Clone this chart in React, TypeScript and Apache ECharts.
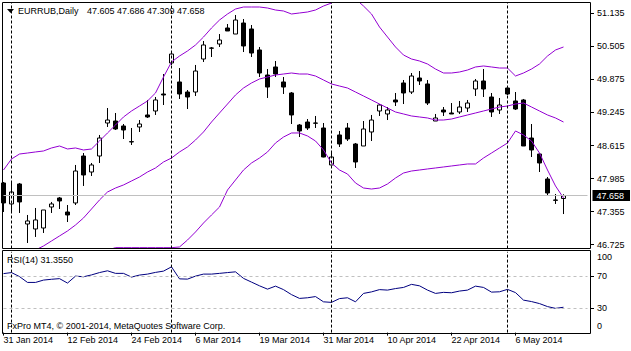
import React, { useEffect, useRef } from 'react';
import * as echarts from 'echarts';

const categories = [
  '31 Jan 2014', '3 Feb 2014', '4 Feb 2014', '5 Feb 2014', '6 Feb 2014', '7 Feb 2014', '10 Feb 2014', '11 Feb 2014', '12 Feb 2014', '13 Feb 2014',
  '14 Feb 2014', '17 Feb 2014', '18 Feb 2014', '19 Feb 2014', '20 Feb 2014', '21 Feb 2014', '24 Feb 2014', '25 Feb 2014', '26 Feb 2014', '27 Feb 2014',
  '28 Feb 2014', '3 Mar 2014', '4 Mar 2014', '5 Mar 2014', '6 Mar 2014', '7 Mar 2014', '11 Mar 2014', '12 Mar 2014', '13 Mar 2014', '14 Mar 2014',
  '17 Mar 2014', '18 Mar 2014', '19 Mar 2014', '20 Mar 2014', '21 Mar 2014', '24 Mar 2014', '25 Mar 2014', '26 Mar 2014', '27 Mar 2014', '28 Mar 2014',
  '31 Mar 2014', '1 Apr 2014', '2 Apr 2014', '3 Apr 2014', '4 Apr 2014', '7 Apr 2014', '8 Apr 2014', '9 Apr 2014', '10 Apr 2014', '11 Apr 2014',
  '14 Apr 2014', '15 Apr 2014', '16 Apr 2014', '17 Apr 2014', '18 Apr 2014', '21 Apr 2014', '22 Apr 2014', '23 Apr 2014', '24 Apr 2014', '25 Apr 2014',
  '28 Apr 2014', '29 Apr 2014', '30 Apr 2014', '5 May 2014', '6 May 2014', '7 May 2014', '8 May 2014', '12 May 2014', '13 May 2014', '14 May 2014',
  '15 May 2014', '16 May 2014', '19 May 2014', '20 May 2014'
];
const lastLabelIndex = 64;

const opens = [
  47.901, 47.501, 47.882, 47.119, 47.024, 47.043, 47.443, 47.615, 47.348, 47.520,
  48.415, 48.110, 48.415, 49.044, 49.082, 48.987, 48.682, 48.968, 49.197, 49.273,
  49.597, 50.188, 49.826, 49.635, 49.635, 50.264, 50.474, 50.550, 50.855, 50.740,
  50.950, 50.836, 50.436, 49.959, 50.112, 49.826, 49.616, 49.006, 49.063, 49.044,
  48.949, 48.244, 48.816, 48.949, 48.644, 48.606, 48.873, 49.273, 49.216, 49.483,
  49.807, 49.635, 49.902, 49.788, 49.082, 49.292, 49.235, 49.254, 49.330, 49.692,
  49.845, 49.540, 49.292, 49.711, 49.464, 49.483, 48.758, 48.453, 47.977, 47.577,
  47.605
];
const highs = [
  47.920, 47.901, 47.901, 47.291, 47.424, 47.386, 47.539, 47.634, 47.481, 48.244,
  48.472, 48.282, 48.816, 49.330, 49.235, 49.025, 48.949, 49.101, 49.483, 49.540,
  49.978, 50.397, 50.092, 49.673, 50.150, 50.607, 50.493, 50.740, 50.931, 51.103,
  51.026, 50.912, 50.493, 50.073, 50.226, 49.921, 49.635, 49.025, 49.120, 49.178,
  49.044, 48.511, 48.892, 49.044, 48.663, 49.082, 49.197, 49.406, 49.349, 49.616,
  49.864, 49.997, 50.035, 49.864, 49.216, 49.349, 49.425, 49.464, 49.483, 49.883,
  50.073, 49.616, 49.521, 49.711, 49.635, 49.502, 49.025, 48.472, 48.015, 47.691,
  47.686
];
const lows = [
  47.348, 47.329, 47.329, 46.757, 46.872, 46.948, 47.329, 47.405, 47.157, 47.481,
  47.844, 48.034, 48.282, 48.968, 48.911, 48.739, 48.625, 48.873, 49.140, 49.197,
  49.387, 50.150, 49.502, 49.311, 49.559, 50.207, 50.302, 50.493, 50.798, 50.740,
  50.397, 50.302, 49.921, 49.521, 49.921, 49.597, 49.025, 48.777, 48.911, 48.949,
  48.390, 48.240, 48.587, 48.701, 48.187, 48.606, 48.701, 49.178, 49.101, 49.368,
  49.406, 49.597, 49.769, 49.387, 49.082, 49.178, 49.216, 49.216, 49.254, 49.559,
  49.540, 49.159, 49.216, 49.578, 49.292, 48.606, 48.396, 48.110, 47.653, 47.501,
  47.309
];
const closes = [
  47.520, 47.729, 47.539, 47.177, 47.196, 47.386, 47.501, 47.558, 47.291, 48.129,
  48.053, 48.244, 48.758, 49.101, 48.930, 48.911, 48.690, 49.025, 49.159, 49.483,
  49.578, 50.359, 49.597, 49.540, 50.035, 50.531, 50.470, 50.626, 50.798, 51.007,
  50.512, 50.378, 49.997, 49.730, 49.978, 49.730, 49.197, 48.892, 48.949, 49.040,
  48.396, 48.396, 48.644, 48.739, 48.301, 48.930, 49.101, 49.387, 49.292, 49.445,
  49.616, 49.940, 49.845, 49.425, 49.140, 49.254, 49.216, 49.349, 49.425, 49.845,
  49.692, 49.254, 49.387, 49.597, 49.311, 48.606, 48.530, 48.282, 47.710, 47.570,
  47.658
];

const bandUpper = [
  48.148, 48.358, 48.453, 48.472, 48.492, 48.511, 48.568, 48.606, 48.549, 48.568,
  48.530, 48.549, 48.701, 48.854, 49.006, 49.159, 49.273, 49.368, 49.464, 49.616,
  49.921, 50.207, 50.321, 50.417, 50.531, 50.683, 50.855, 51.007, 51.122, 51.217,
  51.255, 51.255, 51.255, 51.236, 51.198, 51.179, 51.122, 51.141, 51.160, 51.198,
  51.274, 51.331, 51.427, 51.446, 51.408, 51.274, 51.122, 50.874, 50.683, 50.493,
  50.340, 50.264, 50.226, 50.169, 50.073, 49.997, 49.997, 50.016, 50.054, 50.112,
  50.131, 50.112, 50.092, 50.092, 49.940, 49.997, 50.073, 50.169, 50.321, 50.436,
  50.493
];
const bandMiddle = [
  46.243, 46.338, 46.433, 46.529, 46.624, 46.700, 46.795, 46.891, 46.986, 47.100,
  47.234, 47.405, 47.577, 47.729, 47.805, 47.863, 47.939, 48.015, 48.110, 48.187,
  48.301, 48.377, 48.492, 48.587, 48.720, 48.873, 49.063, 49.235, 49.406, 49.578,
  49.711, 49.807, 49.883, 49.921, 49.959, 49.978, 49.997, 49.978, 49.978, 49.940,
  49.864, 49.788, 49.749, 49.711, 49.635, 49.559, 49.483, 49.406, 49.330, 49.254,
  49.216, 49.178, 49.159, 49.140, 49.101, 49.101, 49.120, 49.159, 49.197, 49.235,
  49.273, 49.311, 49.349, 49.368, 49.406, 49.425, 49.349, 49.273, 49.197, 49.140,
  49.063
];
const bandLower = [
  46.300, 46.250, 46.200, 46.150, 46.100, 46.100, 46.150, 46.200, 46.280, 46.350,
  46.420, 46.500, 46.560, 46.620, 46.668, 46.668, 46.668, 46.668, 46.668, 46.668,
  46.668, 46.668, 46.681, 46.814, 46.967, 47.138, 47.291, 47.443, 47.767, 47.958,
  48.148, 48.282, 48.377, 48.492, 48.663, 48.777, 48.854, 48.854, 48.797, 48.701,
  48.530, 48.282, 48.148, 48.072, 47.901, 47.805, 47.786, 47.805, 47.882, 47.996,
  48.091, 48.129, 48.148, 48.168, 48.187, 48.206, 48.225, 48.244, 48.263, 48.263,
  48.377, 48.472, 48.568, 48.663, 48.892, 48.816, 48.701, 48.472, 48.148, 47.844,
  47.615
];

const rsi = [
  73.0, 74.3, 69.3, 62.1, 62.1, 65.0, 66.0, 66.8, 61.3, 69.9,
  69.1, 71.4, 74.3, 76.5, 73.3, 73.3, 68.7, 71.2, 72.4, 74.5,
  76.1, 81.4, 66.5, 66.2, 69.9, 72.4, 72.4, 73.3, 74.3, 75.2,
  67.1, 62.5, 57.9, 53.8, 57.5, 53.2, 47.0, 42.3, 43.1, 44.6,
  38.1, 37.4, 42.1, 43.1, 38.1, 48.5, 50.4, 53.2, 52.6, 54.5,
  55.9, 59.7, 57.9, 52.6, 48.5, 49.8, 49.3, 51.4, 52.6, 57.5,
  55.9, 50.1, 50.5, 53.5, 49.5, 40.2, 38.4, 35.9, 32.2, 30.0,
  31.355
];

const priceTicks = [46.725, 47.355, 47.985, 48.615, 49.245, 49.875, 50.505, 51.135];
const rsiTicks = [0, 30, 70, 100];
const rsiLevels = [30, 70];
const separators = ['3 Feb 2014', '3 Mar 2014', '1 Apr 2014', '5 May 2014'];
const lastPrice = 47.658;
const headerSymbol = 'EURRUB,Daily';
const headerValues = '47.605 47.686 47.309 47.658';
const rsiTitle = 'RSI(14) 31.3550';
const copyright = 'FxPro MT4, \u00A9 2001-2014, MetaQuotes Software Corp.';

const FONT = '"Liberation Sans", Arial, sans-serif';
const BAND_COLOR = '#9400D3';
const RSI_COLOR = '#000080';

export default function App() {
  const ref = useRef<HTMLDivElement>(null);

  useEffect(() => {
    if (!ref.current) return;
    const chart = echarts.init(ref.current, null, { renderer: 'svg' });

    const candleData = opens.map((o, i) => [o, closes[i], lows[i], highs[i]]);
    const labelFilter = (idx: number) => idx % 8 === 0 && idx <= lastLabelIndex;
    const sepLines = separators.map((s) => ({
      xAxis: s,
      lineStyle: { color: '#000', type: [3, 2], width: 1 },
    }));

    const option: any = {
      animation: false,
      grid: [
        { left: 3.5, top: 2.5, width: 584, height: 246, show: false },
        { left: 3.5, top: 251.8, width: 584, height: 80.8, show: false },
      ],
      xAxis: [
        { type: 'category', gridIndex: 0, data: categories, boundaryGap: false, show: false },
        {
          type: 'category',
          gridIndex: 1,
          data: categories,
          boundaryGap: false,
          axisLine: { show: false },
          axisTick: { show: true, length: 3, interval: labelFilter, lineStyle: { color: '#000' } },
          axisLabel: {
            interval: labelFilter,
            align: 'left',
            margin: 3,
            fontSize: 9,
            fontFamily: FONT,
            color: '#000',
          },
          splitLine: { show: false },
        },
      ],
      yAxis: [
        {
          type: 'value',
          gridIndex: 0,
          position: 'right',
          offset: 2.5,
          min: 46.652,
          max: 51.341,
          splitLine: { show: false },
          axisLine: { show: false },
          axisTick: { show: true, length: 4, customValues: priceTicks, lineStyle: { color: '#000' } },
          axisLabel: {
            customValues: priceTicks,
            formatter: (v: number) => v.toFixed(3),
            margin: 7,
            fontSize: 9,
            fontFamily: FONT,
            color: '#000',
          },
        },
        {
          type: 'value',
          gridIndex: 1,
          position: 'right',
          offset: 2.5,
          min: 0,
          max: 100,
          splitLine: { show: false },
          axisLine: { show: false },
          axisTick: { show: true, length: 4, customValues: rsiLevels, lineStyle: { color: '#000' } },
          axisLabel: {
            customValues: rsiTicks,
            formatter: (v: number) => (v === 100 ? '{t|100}' : v === 0 ? '{b|0}' : String(v)),
            rich: {
              t: { padding: [10, 0, 0, 0], fontSize: 9, fontFamily: FONT, color: '#000' },
              b: { padding: [0, 0, 13, 0], fontSize: 9, fontFamily: FONT, color: '#000' },
            },
            margin: 7,
            fontSize: 9,
            fontFamily: FONT,
            color: '#000',
          },
        },
      ],
      series: [
        {
          type: 'candlestick',
          xAxisIndex: 0,
          yAxisIndex: 0,
          data: candleData,
          barWidth: 5,
          itemStyle: {
            color: '#ffffff',
            color0: '#000000',
            borderColor: '#000000',
            borderColor0: '#000000',
            borderColorDoji: '#000000',
            borderWidth: 1,
          },
          markLine: {
            symbol: 'none',
            silent: true,
            animation: false,
            label: { show: false },
            data: [
              ...sepLines,
              {
                yAxis: lastPrice,
                lineStyle: { color: '#c0c0c0', type: 'solid', width: 1 },
                label: {
                  show: true,
                  position: 'end',
                  formatter: lastPrice.toFixed(3),
                  color: '#fff',
                  backgroundColor: '#000',
                  padding: [1, 6, 1, 4],
                  distance: 5,
                  fontSize: 9,
                  fontFamily: FONT,
                },
              },
            ],
          },
        },
        ...[bandUpper, bandMiddle, bandLower].map((d) => ({
          type: 'line',
          xAxisIndex: 0,
          yAxisIndex: 0,
          data: d,
          symbol: 'none',
          clip: true,
          lineStyle: { color: BAND_COLOR, width: 1 },
          z: 3,
        })),
        {
          type: 'line',
          xAxisIndex: 1,
          yAxisIndex: 1,
          data: rsi,
          symbol: 'none',
          clip: true,
          lineStyle: { color: RSI_COLOR, width: 1 },
          markLine: {
            symbol: 'none',
            silent: true,
            animation: false,
            label: { show: false },
            data: [
              ...rsiLevels.map((v) => ({ yAxis: v, lineStyle: { color: '#c0c0c0', type: [3, 3], width: 1 } })),
              ...sepLines,
            ],
          },
        },
      ],
      graphic: [
        { type: 'rect', z: 100, shape: { x: 2.5, y: 2.5, width: 588, height: 246 }, style: { fill: 'none', stroke: '#000', lineWidth: 1 } },
        { type: 'rect', z: 100, shape: { x: 2.5, y: 250.5, width: 588, height: 83 }, style: { fill: 'none', stroke: '#000', lineWidth: 1 } },
        { type: 'polygon', z: 100, shape: { points: [[7, 9], [14, 9], [10.5, 13]] }, style: { fill: '#000' } },
        { type: 'text', z: 100, x: 18, y: 11, style: { text: headerSymbol, fill: '#000', font: `9px ${FONT}`, verticalAlign: 'middle', align: 'left' } },
        { type: 'text', z: 100, x: 87, y: 11, style: { text: headerValues, fill: '#000', font: `9px ${FONT}`, verticalAlign: 'middle', align: 'left' } },
        { type: 'text', z: 100, x: 7, y: 259.5, style: { text: rsiTitle, fill: '#000', font: `9px ${FONT}`, verticalAlign: 'middle', align: 'left' } },
        { type: 'text', z: 100, x: 7, y: 326, style: { text: copyright, fill: '#000', font: `9px ${FONT}`, verticalAlign: 'middle', align: 'left' } },
      ],
    };

    chart.setOption(option);
    return () => chart.dispose();
  }, []);

  return (
    <div
      ref={ref}
      style={{ position: 'absolute', left: 0, top: 0, width: 631, height: 351, background: '#fff' }}
    />
  );
}
